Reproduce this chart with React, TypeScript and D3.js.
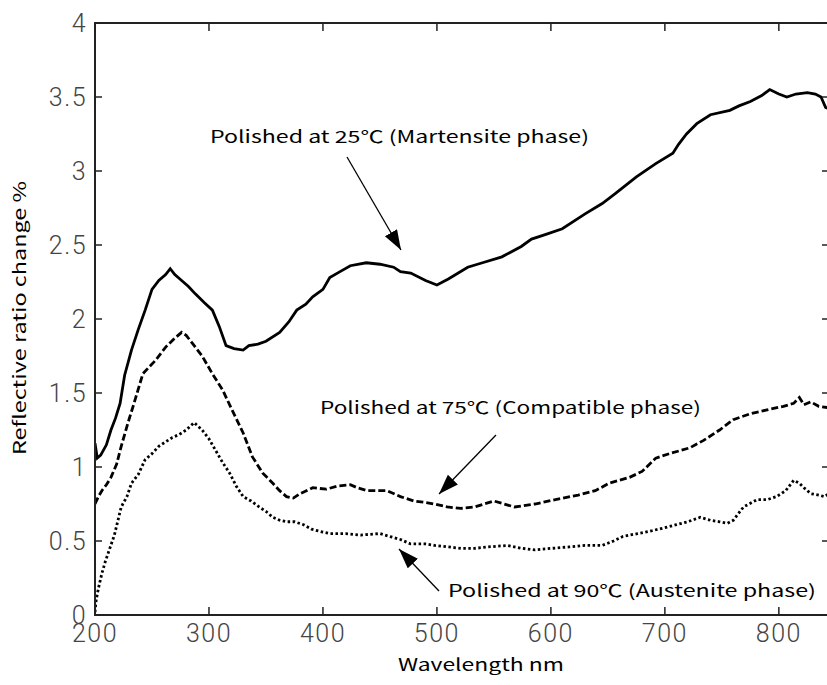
import React from "react";
import * as d3 from "d3";

const xTicks = [200, 300, 400, 500, 600, 700, 800];
const yTicks = [0, 0.5, 1, 1.5, 2, 2.5, 3, 3.5, 4];
const yTickLabels = ["0", "0.5", "1", "1.5", "2", "2.5", "3", "3.5", "4"];

const wl25 = [200,202,205,210,214,218,222,226,232,238,244,250,256,262,266,270,276,282,288,296,303,309,315,322,330,335,343,350,362,370,377,385,391,400,406,415,424,438,450,462,468,477,490,500,510,527,540,557,574,583,595,610,630,645,657,675,692,707,712,719,728,740,757,765,775,785,792,800,807,815,825,832,837,841,844];
const v25 = [1.16,1.06,1.08,1.15,1.25,1.33,1.43,1.62,1.79,1.93,2.06,2.2,2.26,2.3,2.34,2.3,2.26,2.22,2.17,2.11,2.06,1.95,1.82,1.8,1.79,1.82,1.83,1.85,1.91,1.98,2.06,2.1,2.15,2.2,2.28,2.32,2.36,2.38,2.37,2.35,2.32,2.31,2.26,2.23,2.27,2.35,2.38,2.42,2.49,2.54,2.57,2.61,2.71,2.78,2.85,2.96,3.05,3.12,3.18,3.25,3.32,3.38,3.41,3.44,3.47,3.51,3.55,3.52,3.5,3.52,3.53,3.52,3.5,3.43,3.42];

const wl75 = [200,203,206,210,214,219,223,229,235,242,248,253,262,270,276,280,285,294,303,312,320,330,338,347,356,362,368,374,380,391,403,412,424,430,439,456,468,480,490,498,509,521,533,550,568,586,604,624,639,651,669,680,692,704,722,734,748,760,775,792,804,813,818,822,828,835,844];
const v75 = [0.75,0.8,0.84,0.88,0.93,1.02,1.14,1.3,1.45,1.63,1.68,1.72,1.81,1.87,1.91,1.89,1.84,1.75,1.63,1.52,1.39,1.23,1.07,0.96,0.89,0.84,0.8,0.79,0.82,0.86,0.85,0.87,0.88,0.86,0.84,0.84,0.8,0.77,0.76,0.75,0.73,0.72,0.73,0.77,0.73,0.75,0.78,0.81,0.84,0.89,0.93,0.97,1.06,1.09,1.13,1.18,1.25,1.32,1.36,1.39,1.41,1.43,1.47,1.42,1.44,1.41,1.4];

const wl90 = [200,201,203,206,209,213,217,223,228,232,238,244,250,256,262,268,274,280,287,294,300,306,312,318,324,330,337,344,350,356,362,368,375,383,390,400,406,420,433,450,459,468,477,490,498,510,521,533,545,562,575,586,600,616,630,645,655,663,676,689,700,710,720,731,740,748,755,760,769,781,790,798,806,813,818,822,828,835,840,844];
const v90 = [0.02,0.1,0.18,0.28,0.36,0.45,0.54,0.73,0.8,0.89,0.95,1.05,1.09,1.14,1.17,1.2,1.22,1.25,1.3,1.25,1.19,1.11,1.03,0.96,0.87,0.8,0.77,0.73,0.7,0.66,0.64,0.63,0.63,0.61,0.58,0.56,0.55,0.55,0.54,0.55,0.53,0.51,0.48,0.48,0.47,0.46,0.45,0.45,0.46,0.47,0.45,0.44,0.45,0.46,0.47,0.47,0.5,0.53,0.55,0.57,0.59,0.61,0.63,0.66,0.64,0.63,0.62,0.64,0.73,0.78,0.78,0.8,0.84,0.91,0.89,0.86,0.82,0.81,0.8,0.82];

const labels = [
  "Polished at 25℃ (Martensite phase)",
  "Polished at 75℃ (Compatible phase)",
  "Polished at 90℃ (Austenite phase)",
];

const W = 827, H = 685;
const L = 95, R = 829, T = 23, B = 615;

export default function App() {
  const x = d3.scaleLinear().domain([200, 844]).range([L, R]);
  const y = d3.scaleLinear().domain([0, 4]).range([B, T]);
  const line = d3.line<[number, number]>().x(d => x(d[0])).y(d => y(d[1]));
  const s25 = wl25.map((w, i) => [w, v25[i]] as [number, number]);
  const s75 = wl75.map((w, i) => [w, v75[i]] as [number, number]);
  const s90 = wl90.map((w, i) => [w, v90[i]] as [number, number]);
  const tickFont = { fontFamily: "Roboto, Liberation Sans, sans-serif", fontWeight: 300, fontSize: 25, fill: "#444", letterSpacing: 1.5 } as any;
  const annFont = { fontFamily: "Noto Sans CJK JP, sans-serif", fontSize: 17, fill: "#000" } as any;
  return (
    <svg width={W} height={H} style={{ position: "absolute", left: 0, top: 0, background: "#fff" }}>
      <defs>
        <marker id="ah" markerUnits="userSpaceOnUse" markerWidth="22" markerHeight="16" refX="20" refY="7" orient="auto">
          <path d="M0,0 L20,7 L0,14 Z" fill="#000" />
        </marker>
        <clipPath id="pc"><rect x={L} y={T - 5} width={R - L} height={B - T + 10} /></clipPath>
      </defs>
      <g clipPath="url(#pc)" fill="none" stroke="#000" strokeWidth={2.8}>
        <path d={line(s25) || ""} />
        <path d={line(s75) || ""} strokeDasharray="7 3" />
        <path d={line(s90) || ""} strokeDasharray="2.5 2.5" />
      </g>
      <rect x={L} y={T} width={R - L} height={B - T} fill="none" stroke="#222" strokeWidth={2} />
      {xTicks.map(t => (
        <g key={"x" + t}>
          <line x1={x(t)} x2={x(t)} y1={B} y2={B - 8} stroke="#222" strokeWidth={1.5} />
          <line x1={x(t)} x2={x(t)} y1={T} y2={T + 8} stroke="#222" strokeWidth={1.5} />
          <text x={x(t)} y={642} textAnchor="middle" style={tickFont}>{t}</text>
        </g>
      ))}
      {yTicks.map((t, i) => (
        <g key={"y" + t}>
          <line x1={L} x2={L + 7} y1={y(t)} y2={y(t)} stroke="#222" strokeWidth={1.5} />
          <line x1={R} x2={R - 7} y1={y(t)} y2={y(t)} stroke="#222" strokeWidth={1.5} />
          <text x={87} y={y(t) + 9} textAnchor="end" style={tickFont}>{yTickLabels[i]}</text>
        </g>
      ))}
      <text x={481} y={671} textAnchor="middle" style={annFont} textLength={166} lengthAdjust="spacingAndGlyphs">Wavelength  nm</text>
      <text transform="translate(26,318) rotate(-90)" textAnchor="middle" style={annFont} textLength={274} lengthAdjust="spacingAndGlyphs">Reflective ratio change  %</text>
      <text x={210} y={143} style={annFont} textLength={379} lengthAdjust="spacingAndGlyphs">{labels[0]}</text>
      <text x={320} y={414} style={annFont} textLength={381} lengthAdjust="spacingAndGlyphs">{labels[1]}</text>
      <text x={448} y={597} style={annFont} textLength={368} lengthAdjust="spacingAndGlyphs">{labels[2]}</text>
      <line x1={347} y1={157} x2={401} y2={250} stroke="#000" strokeWidth={1.3} markerEnd="url(#ah)" />
      <line x1={496} y1={435} x2={439} y2={494} stroke="#000" strokeWidth={1.3} markerEnd="url(#ah)" />
      <line x1={439} y1={591} x2={399} y2={549} stroke="#000" strokeWidth={1.3} markerEnd="url(#ah)" />
    </svg>
  );
}
